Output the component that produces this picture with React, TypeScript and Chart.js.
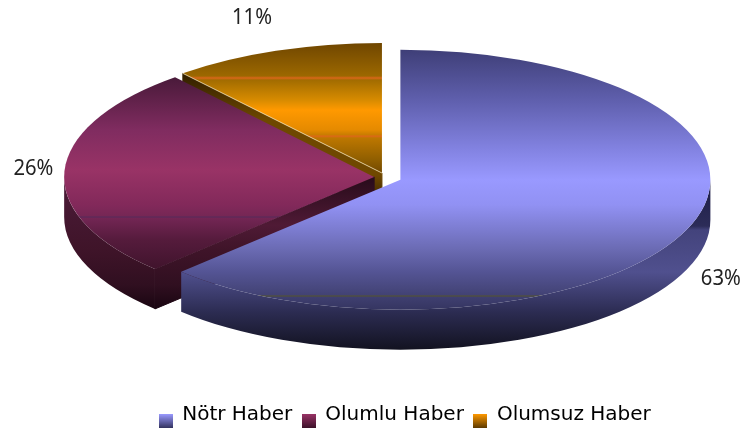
import React, { useEffect, useRef } from "react";
import { Chart, registerables } from "chart.js";

Chart.register(...registerables);

const categories = ["Nötr Haber", "Olumlu Haber", "Olumsuz Haber"];
const shares = [62.5, 26.4, 11.1];
const percentLabels = ["63%", "26%", "11%"];

type Stop = [number, string];
interface SliceStyle {
  top: Stop[];
  wall: Stop[];
  cut: Stop[];
  swatch: [string, string];
  nudge: [number, number];
  explode: number;
}

const styles: SliceStyle[] = [
  {
    top: [[50, "#3f3f78"], [100, "#5f5fad"], [150, "#8383e2"], [180, "#9999ff"], [205, "#9191f3"], [250, "#6a6ab2"], [272, "#545494"], [295, "#424274"], [296, "#55552a"], [297, "#3f3f70"], [312, "#33335e"]],
    wall: [[185, "#1e1e48"], [226, "#2c2c58"], [230, "#43437c"], [272, "#50508e"], [312, "#2c2c52"], [350, "#121220"]],
    cut: [[180, "#222244"], [312, "#222244"]],
    swatch: ["#9a9aff", "#33335e"],
    nudge: [34, 49],
    explode: 10.2,
  },
  {
    top: [[78, "#4a1a3a"], [130, "#802c60"], [170, "#993366"], [205, "#82295a"], [216, "#762755"], [217, "#542a5a"], [218, "#732654"], [240, "#551b3c"], [275, "#3c1229"]],
    wall: [[190, "#4a1a36"], [250, "#3f1429"], [285, "#300f20"], [310, "#180510"]],
    cut: [[180, "#2a0c1c"], [225, "#4f1a35"], [250, "#3f1429"], [285, "#300f20"], [310, "#180510"]],
    swatch: ["#993366", "#3c1229"],
    nudge: [-31, -3],
    explode: 7.3,
  },
  {
    top: [[42, "#6e4500"], [76, "#9c6800"], [78, "#d9661a"], [80, "#a26c00"], [100, "#d78b00"], [110, "#ff9900"], [130, "#e58a00"], [135, "#c87c00"], [136, "#e0661a"], [138, "#bd7700"], [160, "#8f5e00"], [175, "#6e4500"]],
    wall: [[72, "#2e1d00"], [120, "#5e3c00"], [175, "#6a4400"], [213, "#1c1100"]],
    cut: [[72, "#2e1d00"], [120, "#6e4800"], [175, "#704800"], [213, "#1c1100"]],
    swatch: ["#ff9900", "#5c3a00"],
    nudge: [-24, -33],
    explode: 6.8,
  },
];

const VIEW = { cx: 385.6, cy: 177.2, rx: 310, ry: 130, depth: 40 };

function paint(ctx: CanvasRenderingContext2D, stops: Stop[]) {
  const y0 = stops[0][0];
  const y1 = stops[stops.length - 1][0];
  const g = ctx.createLinearGradient(0, y0, 0, y1);
  stops.forEach(([y, c]) => g.addColorStop((y - y0) / (y1 - y0), c));
  return g;
}

function swatchImage(i: number) {
  // taller transparent canvas, so that the square sits below the text's middle
  const c = document.createElement("canvas");
  c.width = 14;
  c.height = 26;
  const x = c.getContext("2d")!;
  const g = x.createLinearGradient(0, 12, 0, 26);
  g.addColorStop(0, styles[i].swatch[0]);
  g.addColorStop(1, styles[i].swatch[1]);
  x.fillStyle = g;
  x.fillRect(0, 12, 14, 14);
  return c;
}

function geometry(arc: any, i: number) {
  const sx = VIEW.rx / arc.outerRadius;
  const sy = VIEW.ry / arc.outerRadius;
  const mid = (arc.startAngle + arc.endAngle) / 2;
  const off = styles[i].explode;
  return {
    x: VIEW.cx + Math.cos(mid) * off * sx,
    y: VIEW.cy + Math.sin(mid) * off * sy,
    mid,
  };
}

const pie3d = {
  id: "pie3d",
  beforeDatasetDraw(chart: any) {
    const ctx: CanvasRenderingContext2D = chart.ctx;
    const arcs = chart.getDatasetMeta(0).data;
    const { rx, ry, depth } = VIEW;
    for (let i = arcs.length - 1; i >= 0; i--) {
      const arc = arcs[i];
      const s = styles[i];
      const { x, y } = geometry(arc, i);
      const a0 = arc.startAngle;
      const a1 = arc.endAngle;

      // cut face that looks towards the viewer
      const cutAngle = i === 0 ? null : a0;
      if (cutAngle !== null) {
        const ex = x + Math.cos(cutAngle) * rx;
        const ey = y + Math.sin(cutAngle) * ry;
        const fill = paint(ctx, s.cut);
        ctx.beginPath();
        ctx.moveTo(x, y);
        ctx.lineTo(ex, ey);
        ctx.lineTo(ex, ey + depth);
        ctx.lineTo(x, y + depth);
        ctx.closePath();
        ctx.fillStyle = fill;
        ctx.strokeStyle = fill;
        ctx.lineWidth = 1;
        ctx.fill();
        ctx.stroke();
      }

      // outer wall, lower half of the ellipse only
      const w0 = Math.max(a0, 0);
      const w1 = Math.min(a1, Math.PI);
      if (w1 > w0) {
        ctx.beginPath();
        ctx.ellipse(x, y, rx, ry, 0, w0, w1);
        ctx.ellipse(x, y + depth, rx, ry, 0, w1, w0, true);
        ctx.closePath();
        ctx.fillStyle = paint(ctx, s.wall);
        ctx.fill();
      }

      // top face
      ctx.beginPath();
      ctx.moveTo(x, y);
      ctx.ellipse(x, y, rx, ry, 0, a0, a1);
      ctx.closePath();
      ctx.fillStyle = paint(ctx, s.top);
      ctx.fill();

      // pale highlight on the front edge of the small slice
      if (i === 2) {
        ctx.beginPath();
        ctx.moveTo(x, y);
        ctx.lineTo(x + Math.cos(a0) * rx, y + Math.sin(a0) * ry);
        ctx.strokeStyle = "rgba(255,240,200,0.75)";
        ctx.lineWidth = 1;
        ctx.stroke();
      }
    }

    // percentage labels, narrow and tall as in the picture
    ctx.save();
    ctx.font = '22px "Noto Sans"';
    ctx.fillStyle = "#222222";
    ctx.textAlign = "center";
    ctx.textBaseline = "middle";
    arcs.forEach((arc: any, i: number) => {
      const { x, y, mid } = geometry(arc, i);
      ctx.save();
      ctx.translate(
        x + Math.cos(mid) * rx + styles[i].nudge[0],
        y + Math.sin(mid) * ry + styles[i].nudge[1]
      );
      ctx.scale(0.92, 1);
      ctx.fillText(percentLabels[i], 0, 0);
      ctx.restore();
    });
    ctx.restore();
    return false;
  },
};

export default function App() {
  const ref = useRef<HTMLCanvasElement>(null);
  useEffect(() => {
    const canvas = ref.current!;
    const chart = new Chart(canvas, {
      type: "pie",
      data: {
        labels: categories,
        datasets: [
          {
            data: shares,
            backgroundColor: styles.map((s) => s.swatch[0]),
            borderWidth: 0,
          },
        ],
      },
      options: {
        responsive: false,
        animation: false,
        layout: { padding: { left: 64, right: 0, top: 0, bottom: 2 } },
        plugins: {
          tooltip: { enabled: false },
          legend: {
            position: "bottom",
            labels: {
              usePointStyle: true,
              pointStyleWidth: 13,
              boxHeight: 13,
              padding: 10,
              color: "#26263c",
              font: { family: '"DejaVu Sans"', size: 20 },
              generateLabels: () =>
                categories.map((text, i) => ({
                  text,
                  fillStyle: styles[i].swatch[0],
                  strokeStyle: "transparent",
                  lineWidth: 0,
                  pointStyle: swatchImage(i),
                  index: i,
                })) as any,
            },
          },
        },
      } as any,
      plugins: [pie3d],
    });
    return () => chart.destroy();
  }, []);
  return (
    <div style={{ position: "fixed", left: 0, top: 0, width: 746, height: 437, background: "#ffffff" }}>
      <canvas ref={ref} width={746} height={437} style={{ display: "block" }} />
    </div>
  );
}
